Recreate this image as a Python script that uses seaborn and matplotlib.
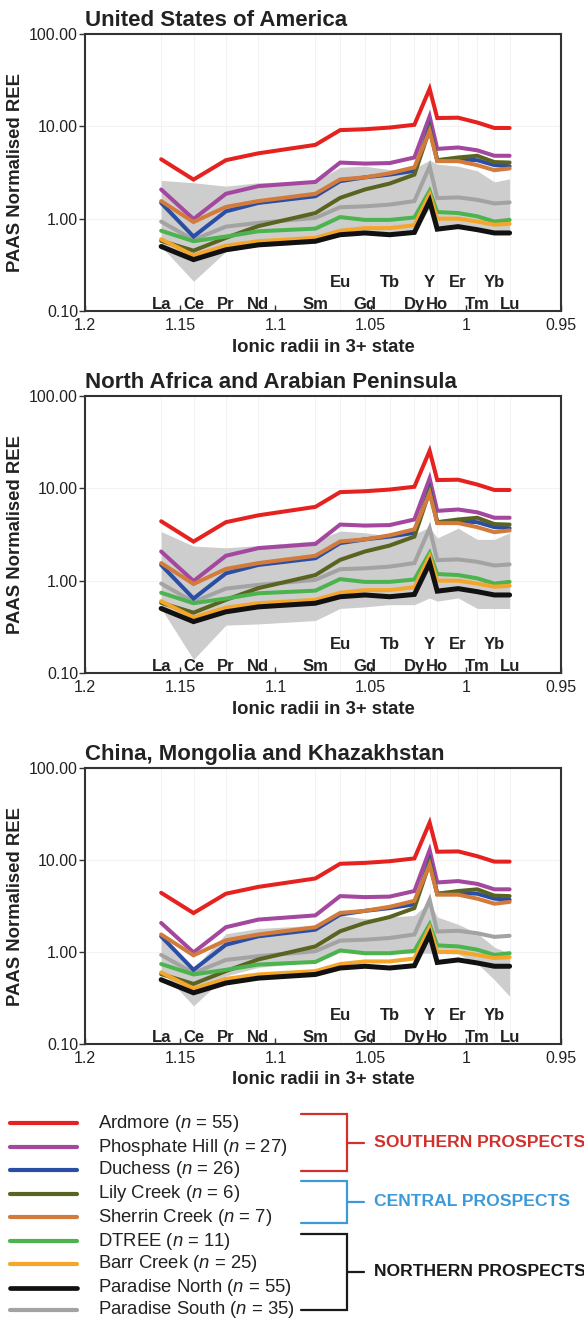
import numpy as np
import pandas as pd
import matplotlib
matplotlib.use("Agg")
import matplotlib.pyplot as plt
from matplotlib.ticker import FixedLocator, FixedFormatter, NullLocator
import seaborn as sns

# ---------------- data ----------------
elements = ['La', 'Ce', 'Pr', 'Nd', 'Sm', 'Eu', 'Gd', 'Tb', 'Dy', 'Y', 'Ho', 'Er', 'Tm', 'Yb', 'Lu']
radii = [1.160, 1.143, 1.126, 1.109, 1.079, 1.066, 1.053, 1.040, 1.027, 1.019, 1.015, 1.004, 0.994, 0.985, 0.977]
upper_row = ['Eu', 'Tb', 'Y', 'Er', 'Yb']

ardmore = [4.4, 2.65, 4.3, 5.1, 6.3, 9.1, 9.3, 9.7, 10.4, 25.5, 12.3, 12.4, 11.0, 9.6, 9.6]
phosphate_hill = [2.07, 0.99, 1.86, 2.25, 2.5, 4.05, 3.95, 4.0, 4.6, 12.8, 5.7, 5.9, 5.5, 4.8, 4.8]
duchess = [1.48, 0.64, 1.2, 1.48, 1.75, 2.55, 2.8, 3.0, 3.3, 9.8, 4.3, 4.4, 4.3, 3.8, 3.7]
lily_creek = [0.575, 0.45, 0.62, 0.83, 1.15, 1.68, 2.07, 2.4, 3.0, 9.3, 4.3, 4.6, 4.8, 4.1, 4.05]
sherrin_creek = [1.55, 0.92, 1.34, 1.55, 1.86, 2.66, 2.8, 3.1, 3.6, 8.9, 4.2, 4.2, 3.8, 3.35, 3.5]
dtree = [0.74, 0.57, 0.64, 0.73, 0.78, 1.04, 0.97, 0.97, 1.03, 2.0, 1.18, 1.15, 1.06, 0.93, 0.97]
barr_creek = [0.6, 0.4, 0.51, 0.57, 0.62, 0.74, 0.79, 0.79, 0.85, 1.83, 1.0, 1.0, 0.93, 0.86, 0.88]
paradise_north = [0.5, 0.36, 0.46, 0.52, 0.57, 0.67, 0.7, 0.67, 0.71, 1.55, 0.77, 0.82, 0.76, 0.7, 0.7]
paradise_south = [0.93, 0.59, 0.82, 0.9, 1.02, 1.33, 1.36, 1.42, 1.55, 3.7, 1.67, 1.7, 1.6, 1.46, 1.5]

series_names = ['Ardmore', 'Phosphate Hill', 'Duchess', 'Lily Creek', 'Sherrin Creek',
                'DTREE', 'Barr Creek', 'Paradise North', 'Paradise South']
series_n = [55, 27, 26, 6, 7, 11, 25, 55, 35]
series_values = [ardmore, phosphate_hill, duchess, lily_creek, sherrin_creek,
                 dtree, barr_creek, paradise_north, paradise_south]
series_colors = ['#e5221f', '#a3479f', '#2b4ea5', '#5a6420', '#d27b3b',
                 '#4cb44f', '#f5a62a', '#111111', '#a3a3a3']

panel_titles = ['United States of America', 'North Africa and Arabian Peninsula',
                'China, Mongolia and Khazakhstan']
band_lower = [
    [0.5, 0.21, 0.44, 0.5, 0.54, 0.67, 0.7, 0.67, 0.72, 1.3, 0.78, 0.83, 0.76, 0.7, 0.71],
    [0.5, 0.14, 0.33, 0.34, 0.37, 0.5, 0.52, 0.55, 0.55, 0.65, 0.6, 0.65, 0.5, 0.5, 0.5],
    [0.62, 0.26, 0.55, 0.68, 0.78, 1.0, 1.0, 0.97, 0.97, 0.97, 0.97, 0.95, 0.75, 0.5, 0.33],
]
band_upper = [
    [2.6, 2.45, 2.25, 2.45, 2.55, 3.6, 3.7, 3.4, 3.5, 4.3, 3.9, 3.7, 3.3, 2.5, 2.7],
    [3.4, 2.37, 2.27, 2.4, 2.7, 3.45, 3.3, 3.05, 3.2, 3.8, 2.9, 3.7, 2.8, 2.8, 3.3],
    [1.45, 0.66, 1.58, 1.8, 1.95, 2.5, 2.3, 2.4, 2.5, 3.5, 2.4, 2.0, 1.6, 1.13, 0.96],
]

group_names = ['SOUTHERN PROSPECTS', 'CENTRAL PROSPECTS', 'NORTHERN PROSPECTS']
group_colors = ['#d0312d', '#3d9ad9', '#1a1a1a']
group_members = [(0, 2), (3, 4), (5, 8)]

xticks = [1.2, 1.15, 1.1, 1.05, 1.0, 0.95]
xtick_labels = ['1.2', '1.15', '1.1', '1.05', '1', '0.95']
yticks = [0.1, 1, 10, 100]
ytick_labels = ['0.10', '1.00', '10.00', '100.00']

# ---------------- style ----------------
sns.set_theme(style='white')
plt.rcParams['font.family'] = ['Liberation Sans', 'DejaVu Sans']
plt.rcParams['mathtext.fontset'] = 'custom'
plt.rcParams['mathtext.rm'] = 'Liberation Sans'
plt.rcParams['mathtext.it'] = 'Liberation Sans:italic'
plt.rcParams['mathtext.bf'] = 'Liberation Sans:bold'

W, H = 584, 1318
fig = plt.figure(figsize=(W / 100, H / 100), dpi=100)

long = pd.DataFrame({
    'series': np.repeat(series_names, len(elements)),
    'radius': np.tile(radii, len(series_names)),
    'value': np.concatenate(series_values),
})

panel_px = [(34, 311), (396, 673), (768, 1044)]
left_px, right_px = 85, 561
draw_order = [8, 0, 1, 2, 3, 4, 5, 6, 7]

for p, (top, bot) in enumerate(panel_px):
    ax = fig.add_axes([left_px / W, (H - bot) / H, (right_px - left_px) / W, (bot - top) / H])
    ax.set_yscale('log')
    ax.set_xlim(1.2, 0.95)
    ax.set_ylim(0.1, 100)
    # faint grid
    for r in radii:
        ax.axvline(r, color='#f3f3f3', lw=0.8, zorder=0)
    for yv in [1, 10]:
        ax.axhline(yv, color='#f3f3f3', lw=0.8, zorder=0)
    ax.fill_between(radii, band_lower[p], band_upper[p], color='#cdcdcd', lw=0, zorder=1)
    for z, i in enumerate(draw_order):
        d = long[long['series'] == series_names[i]]
        sns.lineplot(data=d, x='radius', y='value', ax=ax, color=series_colors[i],
                     lw=3.6 if i == 7 else 2.9, legend=False, zorder=2 + z,
                     solid_joinstyle='miter')
    for el, r in zip(elements, radii):
        yv = 0.205 if el in upper_row else 0.118
        ax.text(r, yv, el, ha='center', va='center', fontsize=12, fontweight='bold',
                color='#222222', zorder=20)
    ax.xaxis.set_major_locator(FixedLocator(xticks))
    ax.xaxis.set_major_formatter(FixedFormatter(xtick_labels))
    ax.yaxis.set_major_locator(FixedLocator(yticks))
    ax.yaxis.set_major_formatter(FixedFormatter(ytick_labels))
    ax.xaxis.set_minor_locator(NullLocator())
    ax.yaxis.set_minor_locator(NullLocator())
    ax.tick_params(axis='x', direction='in', length=4, width=1, colors='#333333',
                   labelsize=11.5, pad=5, labelcolor='#222222', bottom=True)
    ax.tick_params(axis='y', direction='out', length=4, width=1, colors='#333333',
                   labelsize=11.5, pad=1, labelcolor='#222222', left=True)
    for s in ax.spines.values():
        s.set_color('#333333')
        s.set_linewidth(1.5)
    ax.set_xlabel('Ionic radii in 3+ state', fontsize=13.3, fontweight='bold',
                  labelpad=4, color='#222222')
    ax.set_ylabel('PAAS Normalised REE', fontsize=13.3, fontweight='bold',
                  labelpad=4, color='#222222')
    ax.set_title(panel_titles[p], loc='left', fontsize=16, fontweight='bold',
                 pad=6, color='#222222')

# ---------------- legend ----------------
lax = fig.add_axes([0, 0, 1, 240 / H])
lax.set_xlim(0, W)
lax.set_ylim(H, H - 240)
lax.axis('off')
row_y = [1123, 1147, 1170, 1194, 1217, 1241, 1264, 1288, 1310]
for i, name in enumerate(series_names):
    lax.plot([10, 77], [row_y[i], row_y[i]], color=series_colors[i],
             lw=3.4 if i == 7 else 3.0, solid_capstyle='round')
    lax.text(98, row_y[i], name + r' ($\mathit{n}$ = $\mathit{' + str(series_n[i]) + r'}$)',
             fontsize=13.3, va='center', ha='left', color='#222222')

brackets = [(1114, 1171), (1181, 1223), (1234, 1310)]
for g, (t, b) in enumerate(brackets):
    c = group_colors[g]
    m = (t + b) / 2
    lax.plot([301, 347, 347, 301], [t, t, b, b], color=c, lw=1.6, solid_joinstyle='miter')
    lax.plot([347, 364], [m, m], color=c, lw=1.6)
    lax.text(374, m, group_names[g], color=c, fontsize=12.6, fontweight='bold',
             va='center', ha='left')

fig.savefig('out.png', dpi=100)
